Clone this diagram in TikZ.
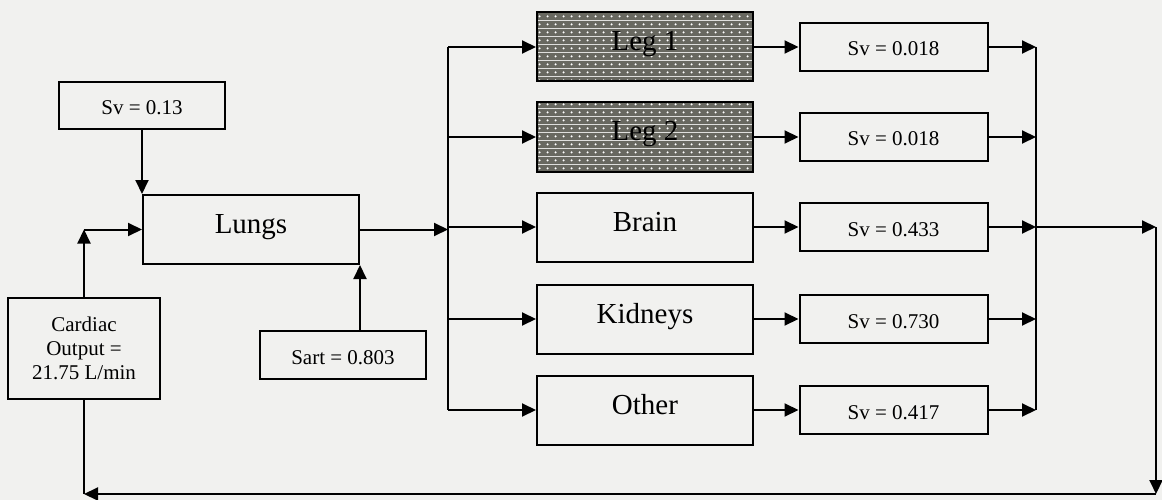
\documentclass[tikz,border=0pt]{standalone}
\usepackage{fontspec}
\setmainfont{Liberation Serif}
\usetikzlibrary{arrows.meta,patterns.meta,calc}

\definecolor{paper}{RGB}{241,241,239}
\definecolor{legdark}{RGB}{104,104,96}

% dark stipple with a regular grid of white dots, for the active legs
\tikzdeclarepattern{
  name=legdots,
  type=colored,
  bounding box={(0pt,0pt) and (8pt,8pt)},
  tile size={(8pt,8pt)},
  code={
    \fill[legdark] (0pt,0pt) rectangle (8pt,8pt);
    \fill[white] (4pt,4pt) circle (1.3pt);
  }
}

\tikzset{
  box/.style={draw, line width=2pt, inner sep=0pt},
  organ/.style={box, minimum width=216pt, minimum height=69pt,
    font=\fontsize{29}{34}\selectfont, text height=20pt, text depth=12pt},
  legbox/.style={organ, pattern=legdots},
  satbox/.style={box, minimum width=188pt, minimum height=48pt,
    font=\fontsize{21}{24}\selectfont, text height=18pt, text depth=0pt},
  infobox/.style={box, align=center, font=\fontsize{21}{24}\selectfont},
  wire/.style={line width=2pt},
  flow/.style={wire, -{Triangle[length=14pt,width=13pt]}},
}

\begin{document}
\begin{tikzpicture}[x=1pt, y=-1pt]
  \fill[paper] (0,0) rectangle (1162,500);
  \useasboundingbox (0,0) rectangle (1162,500);

  % lungs and their inputs
  \node[satbox, minimum width=166pt, minimum height=47pt] (sv0) at (142,105.5) {Sv = 0.13};
  \node[organ] (lungs) at (251,229.5) {Lungs};
  \node[infobox, minimum width=152pt, minimum height=101pt] (card) at (84,348.5)
    {Cardiac\\Output =\\21.75 L/min};
  \node[satbox, minimum width=166pt] (sart) at (343,355) {Sart = 0.803};

  % organs
  \node[legbox] (leg1) at (645,47)  {Leg 1};
  \node[legbox] (leg2) at (645,137) {Leg 2};
  \node[organ]  (brain) at (645,227) {Brain};
  \node[organ]  (kid)   at (645,319) {Kidneys};
  \node[organ]  (oth)   at (645,410) {Other};

  % venous saturations
  \node[satbox] (s1) at (893.5,47)  {Sv = 0.018};
  \node[satbox] (s2) at (893.5,137) {Sv = 0.018};
  \node[satbox] (s3) at (893.5,227) {Sv = 0.433};
  \node[satbox] (s4) at (893.5,319) {Sv = 0.730};
  \node[satbox] (s5) at (893.5,410) {Sv = 0.417};

  % into the lungs
  \draw[flow] (lungs.north west |- sv0.south) -- (lungs.north west);
  \coordinate (cin) at (card.north |- lungs.west);
  \draw[flow] (card.north) -- (cin);
  \draw[flow] (cin) -- (lungs.west);
  \draw[flow] (sart.north -| lungs.south east) -- (lungs.south east);

  % arterial distribution
  \coordinate (split) at ($(lungs.east)+(88,0)$);
  \draw[flow] (lungs.east) -- (split);
  \draw[wire] (split |- leg1.west) -- (split |- oth.west);
  \foreach \o/\s in {leg1/s1, leg2/s2, brain/s3, kid/s4, oth/s5} {
    \draw[flow] (split |- \o.west) -- (\o.west);
    \draw[flow] (\o.east) -- (\s.west);
  }

  % venous return
  \coordinate (join) at ($(s3.east)+(47.5,0)$);
  \draw[wire] (join |- s1.east) -- (join |- s5.east);
  \foreach \s in {s1, s2, s3, s4, s5}
    \draw[flow] (\s.east) -- (join |- \s.east);
  \coordinate (rc) at ($(join)+(120,0)$);
  \coordinate (rb) at (rc |- 0,494);
  \coordinate (lb) at (card.south |- rb);
  \draw[flow] (join) -- (rc);
  \draw[flow] (rc) -- (rb);
  \draw[flow] (rb) -- (lb);
  \draw[wire] (lb) -- (card.south);
\end{tikzpicture}
\end{document}
